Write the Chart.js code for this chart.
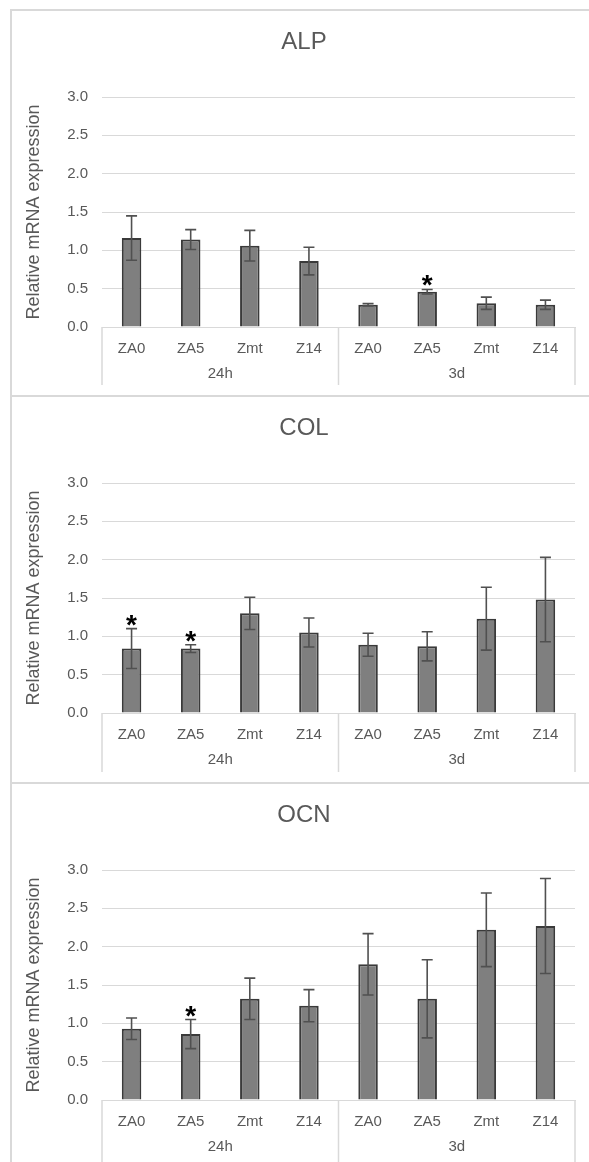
<!DOCTYPE html>
<html>
<head>
<meta charset="utf-8">
<script src="https://cdn.jsdelivr.net/npm/chart.js@4.4.0/dist/chart.umd.min.js"></script>
<style>
  html, body { margin: 0; background: #fff; overflow: hidden; }
  body { width: 589px; height: 1162px; position: relative; }
  .panel { position: absolute; left: 10px; width: 660px; border-top: 2px solid #d9d9d9; border-left: 2px solid #d9d9d9; }
  canvas { position: absolute; left: 0; }
</style>
</head>
<body>
<div class="panel" style="top:9px;height:386px"></div>
<div class="panel" style="top:395px;height:387px"></div>
<div class="panel" style="top:782px;height:400px"></div>
<canvas id="alpChart" width="589" height="384" style="top:11px"></canvas>
<canvas id="colChart" width="589" height="385" style="top:397px"></canvas>
<canvas id="ocnChart" width="589" height="378" style="top:784px"></canvas>
<script>
// categories
const treatments = ['ZA0', 'ZA5', 'Zmt', 'Z14', 'ZA0', 'ZA5', 'Zmt', 'Z14'];
const timeGroups = ['24h', '3d'];
const yTicks = [0, 0.5, 1.0, 1.5, 2.0, 2.5, 3.0];

// ALP
const alpMean = [1.16, 1.14, 1.06, 0.86, 0.29, 0.46, 0.31, 0.29];
const alpErr  = [0.29, 0.13, 0.20, 0.18, 0.015, 0.03, 0.08, 0.06];
const alpSig  = [0, 0, 0, 0, 0, 1, 0, 0];

// COL
const colMean = [0.84, 0.84, 1.30, 1.05, 0.89, 0.87, 1.23, 1.48];
const colErr  = [0.26, 0.05, 0.21, 0.19, 0.15, 0.19, 0.41, 0.55];
const colSig  = [1, 1, 0, 0, 0, 0, 0, 0];

// OCN
const ocnMean = [0.93, 0.86, 1.32, 1.23, 1.77, 1.32, 2.22, 2.27];
const ocnErr  = [0.14, 0.19, 0.27, 0.21, 0.40, 0.51, 0.48, 0.62];
const ocnSig  = [0, 1, 0, 0, 0, 0, 0, 0];

const FONT = '"Liberation Sans", Arial, sans-serif';
const GREY_TEXT = '#595959';
const GRID = '#d9d9d9';

Chart.defaults.font.family = FONT;

// draws title, y title, error bars, stars, the category boxes and group labels
const extrasPlugin = {
    id: 'extras',
    afterDatasetsDraw(chart) {
        const ctx = chart.ctx;
        const opts = chart.options.plugins.extras;
        const area = chart.chartArea;
        const yScale = chart.scales.y;
        const meta = chart.getDatasetMeta(0);
        const values = chart.data.datasets[0].data;

        ctx.save();

        // error bars
        ctx.strokeStyle = '#505050';
        ctx.lineWidth = 1.6;
        meta.data.forEach((bar, i) => {
            const top = yScale.getPixelForValue(values[i] + opts.errors[i]);
            const bot = yScale.getPixelForValue(values[i] - opts.errors[i]);
            ctx.beginPath();
            ctx.moveTo(bar.x, top); ctx.lineTo(bar.x, bot);
            ctx.moveTo(bar.x - 5.5, top); ctx.lineTo(bar.x + 5.5, top);
            ctx.moveTo(bar.x - 5.5, bot); ctx.lineTo(bar.x + 5.5, bot);
            ctx.stroke();
        });

        // significance stars
        ctx.fillStyle = '#000';
        ctx.font = 'bold 28px ' + FONT;
        ctx.textAlign = 'center';
        ctx.textBaseline = 'alphabetic';
        meta.data.forEach((bar, i) => {
            if (!opts.sig[i]) return;
            const top = yScale.getPixelForValue(values[i] + opts.errors[i]);
            ctx.fillText('*', bar.x, top + 5);
        });

        // category boxes under the axis
        const mid = (meta.data[3].x + meta.data[4].x) / 2;
        ctx.strokeStyle = GRID;
        ctx.lineWidth = 1.5;
        ctx.beginPath();
        [area.left, mid, area.right].forEach(x => {
            ctx.moveTo(x, area.bottom);
            ctx.lineTo(x, opts.boxBottom);
        });
        ctx.stroke();

        // group labels
        ctx.fillStyle = GREY_TEXT;
        ctx.font = '15px ' + FONT;
        ctx.textBaseline = 'middle';
        ctx.fillText(timeGroups[0], (area.left + mid) / 2, 363);
        ctx.fillText(timeGroups[1], (mid + area.right) / 2, 363);

        // chart title
        ctx.font = '24px ' + FONT;
        ctx.fillText(opts.title, 304, 31);

        // y axis title
        ctx.font = '18px ' + FONT;
        ctx.translate(34, (area.top + area.bottom) / 2);
        ctx.rotate(-Math.PI / 2);
        ctx.fillText('Relative mRNA expression', 0, 0);

        ctx.restore();
    }
};

function makeChart(id, title, mean, err, sig, boxBottom) {
    const canvas = document.getElementById(id);
    new Chart(canvas, {
        type: 'bar',
        data: {
            labels: treatments,
            datasets: [{
                data: mean,
                backgroundColor: '#7f7f7f',
                borderColor: '#3a3a3a',
                borderWidth: 2,
                barPercentage: 0.33,
                categoryPercentage: 1.0
            }]
        },
        options: {
            responsive: false,
            animation: false,
            devicePixelRatio: 1,
            layout: { padding: { top: 86, right: 14, left: 0, bottom: 0 } },
            plugins: {
                legend: { display: false },
                tooltip: { enabled: false },
                extras: { title: title, errors: err, sig: sig, boxBottom: boxBottom }
            },
            scales: {
                x: {
                    grid: { display: false },
                    border: { display: true, color: GRID, width: 1 },
                    ticks: { color: GREY_TEXT, font: { size: 15 }, padding: 5, maxRotation: 0 },
                    afterFit: s => { s.height = canvas.height - 316; }
                },
                y: {
                    min: 0, max: 3,
                    afterBuildTicks: s => { s.ticks = yTicks.map(v => ({ value: v })); },
                    grid: { color: GRID, lineWidth: 1, drawTicks: false },
                    border: { display: false },
                    ticks: { color: GREY_TEXT, font: { size: 15 }, padding: 14, callback: v => v.toFixed(1) },
                    afterFit: s => { s.width = 102; }
                }
            }
        },
        plugins: [extrasPlugin]
    });
}

makeChart('alpChart', 'ALP', alpMean, alpErr, alpSig, 374);
makeChart('colChart', 'COL', colMean, colErr, colSig, 375);
makeChart('ocnChart', 'OCN', ocnMean, ocnErr, ocnSig, 400);
</script>
</body>
</html>
